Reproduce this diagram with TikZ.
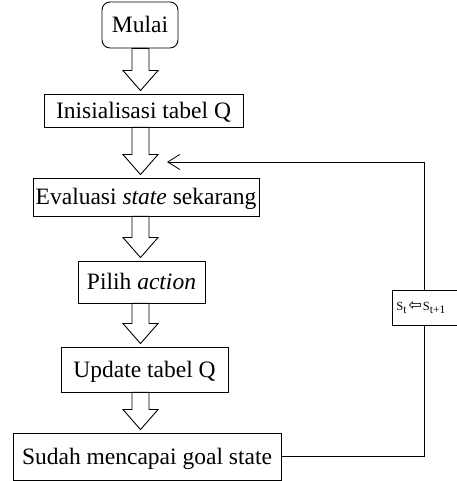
\documentclass[tikz,border=0pt]{standalone}
\usepackage{fontspec}
\setmainfont{Liberation Serif}
\newfontfamily\symfont{DejaVu Sans}
\usetikzlibrary{calc,arrows.meta}
\newcommand{\blockarr}[2]{%
  \path[blockarrow] let \p1=(#1.south), \p2=(#2.north) in
    (132pt,\y1) -- (149pt,\y1) -- (149pt,{\y2+23pt}) -- (158pt,{\y2+23pt})
    -- (140.5pt,{\y2+3pt}) -- (123pt,{\y2+23pt}) -- (132pt,{\y2+23pt}) -- cycle;}
\newcommand{\lowsub}[1]{\raisebox{-2.5pt}{\fontsize{11.5}{12}\selectfont #1}}
\begin{document}
\begin{tikzpicture}[x=1pt,y=1pt,
  box/.style={draw, line width=0.9pt, inner sep=0pt, fill=white,
    font=\fontsize{23.5}{28}\selectfont, text height=15.5pt, text depth=0pt},
  blockarrow/.style={draw, line width=0.9pt, fill=white, line join=miter},
  flow/.style={draw, line width=0.8pt}]
\useasboundingbox (0,0) rectangle (456,481);
\node[box, rounded corners=8pt, minimum width=76pt, minimum height=46pt] (mulai) at (140,456) {Mulai};
\node[box, minimum width=199pt, minimum height=33pt] (init) at (143.5,370.5) {Inisialisasi tabel Q};
\node[box, minimum width=226pt, minimum height=38pt] (eval) at (146,284) {Evaluasi \textit{state} sekarang};
\node[box, minimum width=127pt, minimum height=42pt] (pilih) at (141.5,199) {Pilih \textit{action}};
\node[box, minimum width=167pt, minimum height=45pt] (update) at (144.5,111.5) {Update tabel Q};
\node[box, minimum width=268pt, minimum height=47pt] (sudah) at (147,24.5) {Sudah mencapai goal state};
\node[draw, line width=0.8pt, anchor=west, minimum width=90pt, minimum height=35pt,
  inner xsep=4pt, inner ysep=0pt, text width=82pt, align=left,
  font=\fontsize{12.5}{15}\selectfont] (stbox) at (392,173.5)
  {S\lowsub{t}\hspace{2pt}{\symfont\fontsize{16}{16}\selectfont ⇦}\hspace{1pt}S\lowsub{t+1}};
\coordinate (stlow) at ($(stbox.south west)+(32,0)$);
\coordinate (sthigh) at ($(stbox.north west)+(32,0)$);
\coordinate (ret) at (167,319);
\blockarr{mulai}{init}
\blockarr{init}{eval}
\blockarr{eval}{pilih}
\blockarr{pilih}{update}
\blockarr{update}{sudah}
\draw[flow] (sudah.east) -| (stlow);
\draw[flow, -{Straight Barb[length=12pt,width=15pt]}] (sthigh) |- (ret);
\end{tikzpicture}
\end{document}
